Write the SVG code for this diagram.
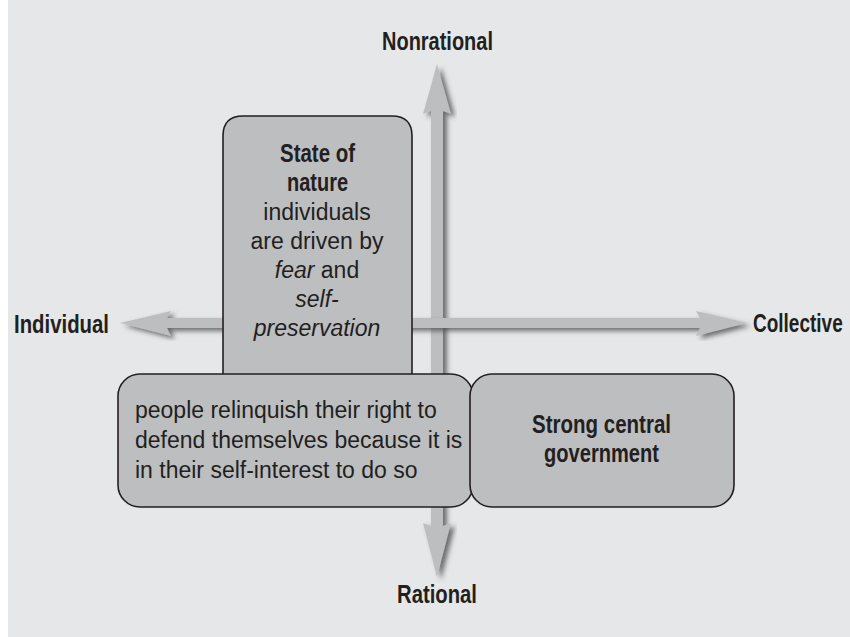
<svg xmlns="http://www.w3.org/2000/svg" width="850" height="637" viewBox="0 0 850 637">
<defs>
<filter id="sh" x="-20%" y="-20%" width="140%" height="140%">
<feGaussianBlur in="SourceAlpha" stdDeviation="2.5"/>
<feOffset dx="4" dy="3" result="b"/>
<feFlood flood-color="#4e4f52" flood-opacity="0.8"/>
<feComposite in2="b" operator="in"/>
<feMerge><feMergeNode/><feMergeNode in="SourceGraphic"/></feMerge>
</filter>
</defs>
<style>
.bg{fill:#e6e7e8}
.arrow{fill:#bcbec0;filter:url(#sh)}
.box{fill:#bcbec0;stroke:#231f20;stroke-width:1.6}
.ax{font-family:"Liberation Sans",Arial,sans-serif;font-weight:bold;font-size:25px;fill:#231f20}
.hd{font-family:"Liberation Sans",Arial,sans-serif;font-weight:bold;font-size:25px;fill:#231f20}
.tx{font-family:"Liberation Sans",Arial,sans-serif;font-size:23px;fill:#231f20}
.c{text-anchor:middle}
.i{font-style:italic}
</style>
<rect x="0" y="0" width="850" height="637" fill="#ffffff"/>
<rect class="bg" x="8" y="0" width="842" height="637"/>
<g id="connectors">
<polygon class="arrow" points="437,64 451,114 443,111 443,526 451,523 437,577 423,523 431,526 431,111 423,114"/>
<polygon class="arrow" points="120,323 171,311 167,318 700,318 696,311 747,323 696,336 700,328 167,328 171,336"/>
</g>
<g id="axis-labels">
<text class="ax" x="382" y="50" textLength="111" lengthAdjust="spacingAndGlyphs">Nonrational</text>
<text class="ax" x="14" y="333" textLength="95" lengthAdjust="spacingAndGlyphs">Individual</text>
<text class="ax" transform="translate(753,332) scale(0.76,1)" x="0" y="0">Collective</text>
<text class="ax" x="397" y="603" textLength="80" lengthAdjust="spacingAndGlyphs">Rational</text>
</g>
<g id="state-of-nature">
<path class="box" d="M223,395 V136 Q223,116 243,116 H392 Q412,116 412,136 V395 Z"/>
<text class="hd" x="280" y="162" textLength="75" lengthAdjust="spacingAndGlyphs">State of</text>
<text class="hd" x="287" y="191" textLength="61" lengthAdjust="spacingAndGlyphs">nature</text>
<text class="tx c" x="317" y="220">individuals</text>
<text class="tx c" x="317" y="249">are driven by</text>
<text class="tx c" x="317" y="278"><tspan class="i">fear</tspan> and</text>
<text class="tx c i" x="317" y="307">self-</text>
<text class="tx c i" x="317" y="336">preservation</text>
</g>
<g id="relinquish">
<rect class="box" x="118" y="374" width="355" height="133" rx="22" ry="22"/>
<text class="tx" x="135" y="418">people relinquish their right to</text>
<text class="tx" x="135" y="448">defend themselves because it is</text>
<text class="tx" x="135" y="478">in their self-interest to do so</text>
</g>
<g id="government">
<rect class="box" x="470" y="374" width="264" height="133" rx="22" ry="22"/>
<text class="hd" x="532" y="433" textLength="139" lengthAdjust="spacingAndGlyphs">Strong central</text>
<text class="hd" x="544" y="462" textLength="115" lengthAdjust="spacingAndGlyphs">government</text>
</g>
</svg>
